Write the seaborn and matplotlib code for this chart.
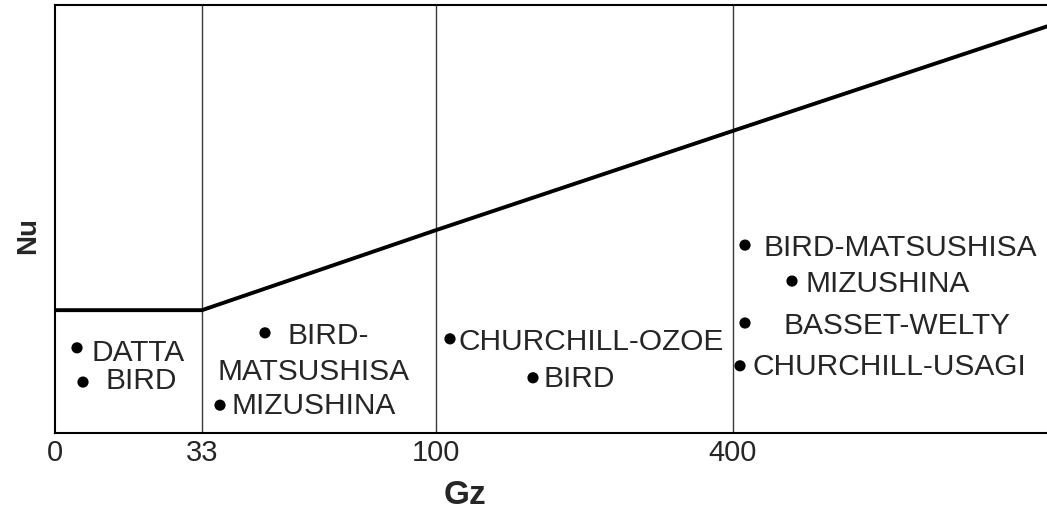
import matplotlib
matplotlib.use("Agg")
import matplotlib.pyplot as plt
import seaborn as sns
import pandas as pd

# Gz regime boundaries (schematic axis positions) and their tick labels
gz_ticks = ["0", "33", "100", "400"]
gz_pos = [0, 147, 381, 678]
x_max = 992

# Nu trend: flat up to Gz = 33, then rising
trend_x = [0, 147, 381, 678, 992]
trend_y = [28.7, 28.7, 47.4, 70.6, 95.0]

# Correlations plotted in each regime
names = ["DATTA", "BIRD", "BIRD-\nMATSUSHISA", "MIZUSHINA",
         "CHURCHILL-OZOE", "BIRD",
         "BIRD-MATSUSHISA", "MIZUSHINA", "BASSET-WELTY", "CHURCHILL-USAGI"]
pt_x = [22, 28, 210, 165, 395, 478, 690, 737, 690, 685]
pt_y = [19.9, 11.9, 23.4, 6.5, 22.0, 12.9, 43.9, 35.5, 25.7, 15.7]

# left edge and vertical centre of every line of each label
label_lines = [
    [(36, 18.6)],
    [(50, 12.2)],
    [(233, 22.7), (163, 14.3)],
    [(177, 6.3)],
    [(403, 21.3)],
    [(489, 12.6)],
    [(709, 43.2)],
    [(751, 34.8)],
    [(729, 25.0)],
    [(697, 15.4)],
]

sns.set_theme(style="white")
plt.rcParams["font.family"] = ["Liberation Sans", "DejaVu Sans"]

fig = plt.figure(figsize=(10.47, 5.14), dpi=100)
ax = fig.add_axes([55 / 1047, 81 / 514, 992 / 1047, 428 / 514])

for xv in gz_pos[1:]:
    ax.axvline(xv, color="#3a3a3a", lw=1.0, zorder=1)

sns.lineplot(x=trend_x, y=trend_y, color="black", lw=2.8, ax=ax, zorder=3)

pts = pd.DataFrame({"x": pt_x, "y": pt_y, "name": names})
sns.scatterplot(data=pts, x="x", y="y", color="black", s=65, ax=ax,
                edgecolor="none", zorder=4)

for anchors, name in zip(label_lines, names):
    for (lx, ly), line in zip(anchors, name.split("\n")):
        ax.text(lx, ly, line, ha="left", va="center", fontsize=21.5)

ax.set_xlim(0, x_max)
ax.set_ylim(0, 100)
ax.set_xticks(gz_pos)
ax.set_xticklabels(gz_ticks, fontsize=21)
ax.set_yticks([])
ax.tick_params(axis="x", length=0, pad=4)
ax.set_xlabel("")
ax.set_ylabel("")

for side in ["left", "top", "bottom"]:
    ax.spines[side].set_color("black")
    ax.spines[side].set_linewidth(1.5)
ax.spines["right"].set_visible(False)

fig.text(465 / 1047, 1 - 496 / 514, "Gz", ha="center", va="center",
         fontsize=24, fontweight="bold")
fig.text(28 / 1047, 1 - 236 / 514, "Nu", ha="center", va="center",
         fontsize=20, fontweight="bold", rotation=90)

fig.savefig("out.png", dpi=100)
